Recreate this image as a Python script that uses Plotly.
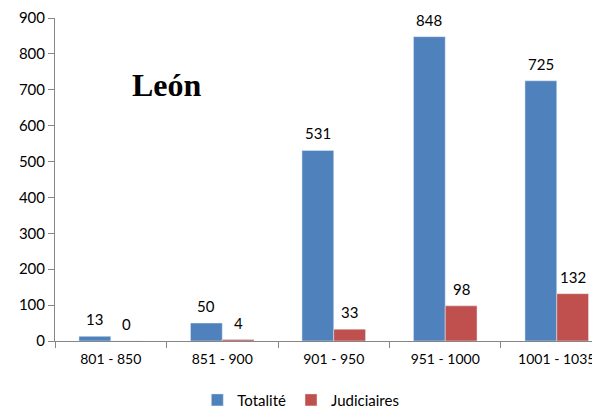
import plotly.graph_objects as go

categories = ["801 - 850", "851 - 900", "901 - 950", "951 - 1000", "1001 - 1035"]
totalite = [13, 50, 531, 848, 725]
judiciaires = [0, 4, 33, 98, 132]
y_ticks = [0, 100, 200, 300, 400, 500, 600, 700, 800, 900]

font_main = "Lato, Calibri, 'Open Sans', sans-serif"
bargap = 0.43
half = (1 - bargap) / 4  # offset of each bar centre from category centre

fig = go.Figure()
fig.add_trace(go.Bar(
    x=categories, y=totalite, name="Totalité",
    marker=dict(color="#4F81BD"),
))
fig.add_trace(go.Bar(
    x=categories, y=judiciaires, name="Judiciaires",
    marker=dict(color="#C0504D"),
))

annotations = []
for i, v in enumerate(totalite):
    annotations.append(dict(x=i - half, y=v, xref="x", yref="y", text=str(v),
                            showarrow=False, yanchor="bottom", yshift=6,
                            font=dict(size=15, color="#000000", family=font_main)))
for i, v in enumerate(judiciaires):
    annotations.append(dict(x=i + half, y=v, xref="x", yref="y", text=str(v),
                            showarrow=False, yanchor="bottom", yshift=6,
                            font=dict(size=15, color="#000000", family=font_main)))
annotations.append(dict(
    text="<b>León</b>", x=0.2055, y=0.794, xref="paper", yref="paper",
    xanchor="center", yanchor="middle", showarrow=False,
    font=dict(family="'Liberation Serif', 'Times New Roman', serif", size=32, color="#000000"),
))

fig.update_layout(
    width=592, height=402,
    margin=dict(l=47, r=0, t=10, b=69, autoexpand=False),
    paper_bgcolor="white", plot_bgcolor="white",
    barmode="group", bargap=bargap, bargroupgap=0,
    font=dict(family=font_main, size=15, color="#000000"),
    showlegend=True,
    legend=dict(orientation="h", x=0.451, xanchor="center", y=-0.132, yanchor="top",
                font=dict(size=15), traceorder="normal"),
    annotations=annotations,
)
fig.update_xaxes(
    range=[-0.5, 4.388], automargin=False,
    showline=True, linecolor="#868686", linewidth=1,
    ticks="outside", tickson="boundaries", ticklen=6, tickcolor="#868686",
    ticklabelstandoff=5,
    showgrid=False, tickfont=dict(size=14),
)
fig.update_yaxes(
    range=[0, 900], tickvals=y_ticks, automargin=False,
    showline=True, linecolor="#868686", linewidth=1,
    ticks="outside", ticklen=6, tickcolor="#868686",
    ticklabeloverflow="allow",
    showgrid=False, zeroline=False, tickfont=dict(size=15),
)

fig.write_html("out.html")
